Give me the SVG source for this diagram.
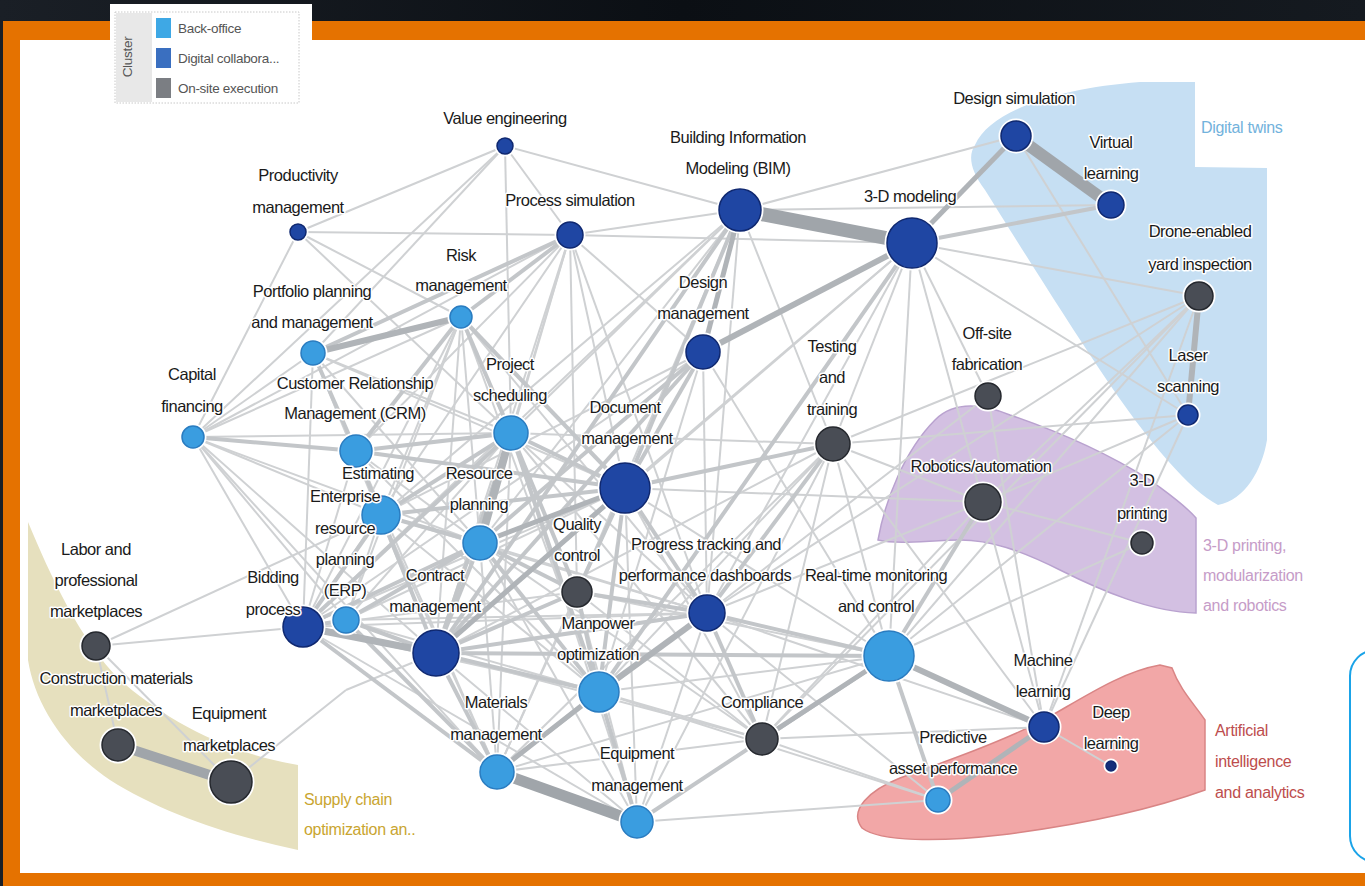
<svg xmlns="http://www.w3.org/2000/svg" width="1365" height="886" viewBox="0 0 1365 886">
<defs>
<linearGradient id="topg" x1="0" y1="0" x2="1" y2="0">
<stop offset="0" stop-color="#1a1f26"/><stop offset="0.5" stop-color="#0b0f14"/><stop offset="1" stop-color="#151a20"/>
</linearGradient>
<style>
.t{stroke:#cfd1d3;stroke-width:2;fill:none}
.m{stroke:#c3c6c9;stroke-width:4;fill:none}
.k{stroke:#b0b4b8;stroke-width:6;fill:none}
.h{stroke:#a0a5aa;fill:none}
.bo{fill:#3a9de0;stroke:#2a7cc0;stroke-width:1.5}
.dc{fill:#1f46a3;stroke:#0f2870;stroke-width:1.5}
.os{fill:#494d55;stroke:#25282e;stroke-width:1.5}
.halo{fill:none;stroke:#ffffff;stroke-width:3}
text{font-family:"Liberation Sans",Arial,sans-serif}
.lab{font-size:16.5px;letter-spacing:-0.5px;fill:#1a1a1a;text-anchor:middle;stroke:#ffffff;stroke-width:3;paint-order:stroke;stroke-linejoin:round}
.rg{font-size:16px;letter-spacing:-0.3px;stroke:none}
.lg{font-size:13.5px;letter-spacing:-0.3px;fill:#555}
</style>
</defs>
<rect x="0" y="0" width="1365" height="886" fill="#e57200"/>
<rect x="0" y="0" width="1365" height="21" fill="url(#topg)"/>
<rect x="0" y="21" width="3" height="865" fill="#1a1f26"/>
<rect x="20" y="40" width="1345" height="833" fill="#ffffff"/>
<g id="regions">
<path id="region-digital-twins" d="M975,145 C990,110 1060,88 1140,82 L1195,82 L1195,167 L1267,168 L1267,440 C1262,470 1245,500 1218,505 C1190,490 1150,445 1100,370 C1060,310 1010,230 985,190 C970,170 968,155 975,145 Z" fill="#c6dff3"/>
<path id="region-3d" d="M878,540 C885,500 905,450 935,420 C955,400 985,405 1010,415 C1060,432 1110,455 1150,480 C1170,495 1185,505 1196,518 L1196,613 C1150,612 1100,590 1060,570 C1020,550 990,540 960,540 C930,540 900,545 878,540 Z" fill="#d3c0e2" stroke="#b9a2cf" stroke-width="1.5"/>
<path id="region-ai" d="M862,828 C848,810 870,790 900,778 C950,760 1000,742 1040,722 C1080,700 1120,672 1160,665 L1172,668 C1180,690 1195,705 1205,720 L1205,790 C1150,810 1080,825 1000,835 C940,842 880,842 862,828 Z" fill="#f2a7a7" stroke="#d98585" stroke-width="1.5"/>
<path id="region-supply" d="M28,522 C50,575 80,640 120,680 C160,715 220,752 298,765 L298,850 C230,836 160,812 110,780 C65,750 35,705 28,660 Z" fill="#e6e0be"/>
<text class="rg" x="1201" y="133" fill="#72b2dc">Digital twins</text>
<text class="rg" x="1203" y="551" fill="#c69cc8">3-D printing,</text>
<text class="rg" x="1203" y="581" fill="#c69cc8">modularization</text>
<text class="rg" x="1203" y="611" fill="#c69cc8">and robotics</text>
<text class="rg" x="1215" y="736" fill="#bd4d4d">Artificial</text>
<text class="rg" x="1215" y="767" fill="#bd4d4d">intelligence</text>
<text class="rg" x="1215" y="798" fill="#bd4d4d">and analytics</text>
<text class="rg" x="304" y="805" fill="#c9a530">Supply chain</text>
<text class="rg" x="304" y="835" fill="#c9a530">optimization an..</text>
</g>
<g id="connectors">
<line class="t" x1="505" y1="146" x2="298" y2="232"/>
<line class="t" x1="505" y1="146" x2="740" y2="210"/>
<line class="t" x1="505" y1="146" x2="570" y2="235"/>
<line class="t" x1="505" y1="146" x2="511" y2="433"/>
<line class="t" x1="505" y1="146" x2="313" y2="353"/>
<line class="t" x1="505" y1="146" x2="193" y2="437"/>
<line class="t" x1="298" y1="232" x2="570" y2="235"/>
<line class="t" x1="298" y1="232" x2="193" y2="437"/>
<line class="t" x1="298" y1="232" x2="461" y2="317"/>
<line class="t" x1="298" y1="232" x2="511" y2="433"/>
<line class="t" x1="570" y1="235" x2="912" y2="243"/>
<line class="t" x1="570" y1="235" x2="740" y2="210"/>
<line class="t" x1="570" y1="235" x2="356" y2="451"/>
<line class="t" x1="570" y1="235" x2="511" y2="433"/>
<line class="t" x1="570" y1="235" x2="480" y2="543"/>
<line class="t" x1="570" y1="235" x2="625" y2="488"/>
<line class="t" x1="570" y1="235" x2="703" y2="352"/>
<line class="t" x1="570" y1="235" x2="577" y2="592"/>
<line class="t" x1="570" y1="235" x2="707" y2="613"/>
<line class="t" x1="570" y1="235" x2="436" y2="653"/>
<line class="t" x1="570" y1="235" x2="303" y2="627"/>
<line class="t" x1="570" y1="235" x2="193" y2="437"/>
<line class="t" x1="740" y1="210" x2="1016" y2="136"/>
<line class="t" x1="740" y1="210" x2="1111" y2="205"/>
<line class="t" x1="740" y1="210" x2="833" y2="444"/>
<line class="t" x1="740" y1="210" x2="480" y2="543"/>
<line class="t" x1="740" y1="210" x2="707" y2="613"/>
<line class="t" x1="740" y1="210" x2="381" y2="515"/>
<line class="t" x1="740" y1="210" x2="303" y2="627"/>
<line class="t" x1="740" y1="210" x2="577" y2="592"/>
<line class="t" x1="740" y1="210" x2="511" y2="433"/>
<line class="t" x1="912" y1="243" x2="1199" y2="296"/>
<line class="t" x1="912" y1="243" x2="1188" y2="415"/>
<line class="t" x1="912" y1="243" x2="988" y2="396"/>
<line class="t" x1="912" y1="243" x2="833" y2="444"/>
<line class="t" x1="912" y1="243" x2="707" y2="613"/>
<line class="t" x1="912" y1="243" x2="625" y2="488"/>
<line class="t" x1="912" y1="243" x2="436" y2="653"/>
<line class="t" x1="912" y1="243" x2="983" y2="502"/>
<line class="t" x1="912" y1="243" x2="889" y2="656"/>
<line class="t" x1="1016" y1="136" x2="1188" y2="415"/>
<line class="t" x1="1199" y1="296" x2="983" y2="502"/>
<line class="t" x1="1199" y1="296" x2="833" y2="444"/>
<line class="t" x1="1199" y1="296" x2="889" y2="656"/>
<line class="t" x1="1199" y1="296" x2="707" y2="613"/>
<line class="t" x1="1199" y1="296" x2="1044" y2="727"/>
<line class="t" x1="1199" y1="296" x2="762" y2="739"/>
<line class="t" x1="1188" y1="415" x2="833" y2="444"/>
<line class="t" x1="1188" y1="415" x2="983" y2="502"/>
<line class="t" x1="1188" y1="415" x2="1044" y2="727"/>
<line class="t" x1="1188" y1="415" x2="889" y2="656"/>
<line class="t" x1="988" y1="396" x2="1044" y2="727"/>
<line class="t" x1="988" y1="396" x2="707" y2="613"/>
<line class="t" x1="833" y1="444" x2="983" y2="502"/>
<line class="t" x1="833" y1="444" x2="1044" y2="727"/>
<line class="t" x1="833" y1="444" x2="762" y2="739"/>
<line class="t" x1="833" y1="444" x2="889" y2="656"/>
<line class="t" x1="833" y1="444" x2="637" y2="822"/>
<line class="t" x1="833" y1="444" x2="599" y2="692"/>
<line class="t" x1="833" y1="444" x2="497" y2="772"/>
<line class="t" x1="833" y1="444" x2="436" y2="653"/>
<line class="t" x1="983" y1="502" x2="1142" y2="543"/>
<line class="t" x1="983" y1="502" x2="1044" y2="727"/>
<line class="t" x1="983" y1="502" x2="889" y2="656"/>
<line class="t" x1="983" y1="502" x2="707" y2="613"/>
<line class="t" x1="983" y1="502" x2="762" y2="739"/>
<line class="t" x1="983" y1="502" x2="625" y2="488"/>
<line class="t" x1="1142" y1="543" x2="889" y2="656"/>
<line class="t" x1="1044" y1="727" x2="1111" y2="766"/>
<line class="t" x1="1044" y1="727" x2="762" y2="739"/>
<line class="t" x1="1044" y1="727" x2="707" y2="613"/>
<line class="t" x1="938" y1="800" x2="637" y2="822"/>
<line class="t" x1="938" y1="800" x2="762" y2="739"/>
<line class="t" x1="938" y1="800" x2="707" y2="613"/>
<line class="t" x1="938" y1="800" x2="599" y2="692"/>
<line class="t" x1="889" y1="656" x2="637" y2="822"/>
<line class="t" x1="889" y1="656" x2="497" y2="772"/>
<line class="t" x1="889" y1="656" x2="436" y2="653"/>
<line class="t" x1="889" y1="656" x2="577" y2="592"/>
<line class="t" x1="889" y1="656" x2="625" y2="488"/>
<line class="t" x1="193" y1="437" x2="313" y2="353"/>
<line class="t" x1="193" y1="437" x2="461" y2="317"/>
<line class="t" x1="193" y1="437" x2="511" y2="433"/>
<line class="t" x1="193" y1="437" x2="381" y2="515"/>
<line class="t" x1="193" y1="437" x2="480" y2="543"/>
<line class="t" x1="193" y1="437" x2="303" y2="627"/>
<line class="t" x1="193" y1="437" x2="436" y2="653"/>
<line class="t" x1="193" y1="437" x2="346" y2="620"/>
<line class="t" x1="193" y1="437" x2="497" y2="772"/>
<line class="t" x1="313" y1="353" x2="511" y2="433"/>
<line class="t" x1="313" y1="353" x2="381" y2="515"/>
<line class="t" x1="313" y1="353" x2="625" y2="488"/>
<line class="t" x1="313" y1="353" x2="303" y2="627"/>
<line class="t" x1="313" y1="353" x2="480" y2="543"/>
<line class="t" x1="313" y1="353" x2="436" y2="653"/>
<line class="t" x1="461" y1="317" x2="381" y2="515"/>
<line class="t" x1="461" y1="317" x2="480" y2="543"/>
<line class="t" x1="461" y1="317" x2="577" y2="592"/>
<line class="t" x1="461" y1="317" x2="436" y2="653"/>
<line class="t" x1="461" y1="317" x2="303" y2="627"/>
<line class="t" x1="461" y1="317" x2="599" y2="692"/>
<line class="t" x1="461" y1="317" x2="707" y2="613"/>
<line class="t" x1="461" y1="317" x2="346" y2="620"/>
<line class="t" x1="356" y1="451" x2="303" y2="627"/>
<line class="t" x1="356" y1="451" x2="480" y2="543"/>
<line class="t" x1="356" y1="451" x2="436" y2="653"/>
<line class="t" x1="356" y1="451" x2="599" y2="692"/>
<line class="t" x1="356" y1="451" x2="497" y2="772"/>
<line class="t" x1="511" y1="433" x2="707" y2="613"/>
<line class="t" x1="511" y1="433" x2="637" y2="822"/>
<line class="t" x1="511" y1="433" x2="497" y2="772"/>
<line class="t" x1="511" y1="433" x2="346" y2="620"/>
<line class="t" x1="511" y1="433" x2="833" y2="444"/>
<line class="t" x1="511" y1="433" x2="762" y2="739"/>
<line class="t" x1="625" y1="488" x2="497" y2="772"/>
<line class="t" x1="625" y1="488" x2="637" y2="822"/>
<line class="t" x1="625" y1="488" x2="762" y2="739"/>
<line class="t" x1="625" y1="488" x2="346" y2="620"/>
<line class="t" x1="625" y1="488" x2="303" y2="627"/>
<line class="t" x1="703" y1="352" x2="707" y2="613"/>
<line class="t" x1="703" y1="352" x2="303" y2="627"/>
<line class="t" x1="703" y1="352" x2="381" y2="515"/>
<line class="t" x1="703" y1="352" x2="599" y2="692"/>
<line class="t" x1="703" y1="352" x2="889" y2="656"/>
<line class="t" x1="381" y1="515" x2="497" y2="772"/>
<line class="t" x1="381" y1="515" x2="599" y2="692"/>
<line class="t" x1="381" y1="515" x2="707" y2="613"/>
<line class="t" x1="381" y1="515" x2="346" y2="620"/>
<line class="t" x1="480" y1="543" x2="497" y2="772"/>
<line class="t" x1="480" y1="543" x2="637" y2="822"/>
<line class="t" x1="480" y1="543" x2="707" y2="613"/>
<line class="t" x1="480" y1="543" x2="762" y2="739"/>
<line class="t" x1="577" y1="592" x2="497" y2="772"/>
<line class="t" x1="577" y1="592" x2="637" y2="822"/>
<line class="t" x1="577" y1="592" x2="762" y2="739"/>
<line class="t" x1="577" y1="592" x2="303" y2="627"/>
<line class="t" x1="303" y1="627" x2="599" y2="692"/>
<line class="t" x1="303" y1="627" x2="707" y2="613"/>
<line class="t" x1="303" y1="627" x2="637" y2="822"/>
<line class="t" x1="303" y1="627" x2="96" y2="646"/>
<line class="t" x1="346" y1="620" x2="599" y2="692"/>
<line class="t" x1="346" y1="620" x2="707" y2="613"/>
<line class="t" x1="436" y1="653" x2="762" y2="739"/>
<line class="t" x1="436" y1="653" x2="637" y2="822"/>
<line class="t" x1="707" y1="613" x2="637" y2="822"/>
<line class="t" x1="707" y1="613" x2="497" y2="772"/>
<line class="t" x1="599" y1="692" x2="762" y2="739"/>
<line class="t" x1="599" y1="692" x2="889" y2="656"/>
<line class="t" x1="497" y1="772" x2="762" y2="739"/>
<line class="t" x1="637" y1="822" x2="762" y2="739"/>
<line class="t" x1="96" y1="646" x2="118" y2="745"/>
<line class="t" x1="96" y1="646" x2="231" y2="782"/>
<line class="t" x1="96" y1="646" x2="381" y2="515"/>
<line class="t" x1="231" y1="782" x2="346" y2="690"/>
<line class="t" x1="346" y1="690" x2="436" y2="653"/>
<line class="m" x1="570" y1="235" x2="461" y2="317"/>
<line class="m" x1="570" y1="235" x2="313" y2="353"/>
<line class="m" x1="740" y1="210" x2="625" y2="488"/>
<line class="m" x1="740" y1="210" x2="436" y2="653"/>
<line class="m" x1="912" y1="243" x2="1111" y2="205"/>
<line class="m" x1="912" y1="243" x2="599" y2="692"/>
<line class="m" x1="193" y1="437" x2="356" y2="451"/>
<line class="m" x1="313" y1="353" x2="356" y2="451"/>
<line class="m" x1="461" y1="317" x2="356" y2="451"/>
<line class="m" x1="461" y1="317" x2="511" y2="433"/>
<line class="m" x1="461" y1="317" x2="625" y2="488"/>
<line class="m" x1="356" y1="451" x2="511" y2="433"/>
<line class="m" x1="356" y1="451" x2="381" y2="515"/>
<line class="m" x1="356" y1="451" x2="625" y2="488"/>
<line class="m" x1="511" y1="433" x2="625" y2="488"/>
<line class="m" x1="511" y1="433" x2="381" y2="515"/>
<line class="m" x1="511" y1="433" x2="436" y2="653"/>
<line class="m" x1="511" y1="433" x2="303" y2="627"/>
<line class="m" x1="511" y1="433" x2="599" y2="692"/>
<line class="m" x1="511" y1="433" x2="577" y2="592"/>
<line class="m" x1="625" y1="488" x2="703" y2="352"/>
<line class="m" x1="625" y1="488" x2="381" y2="515"/>
<line class="m" x1="625" y1="488" x2="577" y2="592"/>
<line class="m" x1="625" y1="488" x2="707" y2="613"/>
<line class="m" x1="625" y1="488" x2="599" y2="692"/>
<line class="m" x1="625" y1="488" x2="833" y2="444"/>
<line class="m" x1="703" y1="352" x2="480" y2="543"/>
<line class="m" x1="703" y1="352" x2="436" y2="653"/>
<line class="m" x1="381" y1="515" x2="480" y2="543"/>
<line class="m" x1="381" y1="515" x2="303" y2="627"/>
<line class="m" x1="381" y1="515" x2="436" y2="653"/>
<line class="m" x1="480" y1="543" x2="436" y2="653"/>
<line class="m" x1="480" y1="543" x2="303" y2="627"/>
<line class="m" x1="480" y1="543" x2="346" y2="620"/>
<line class="m" x1="480" y1="543" x2="599" y2="692"/>
<line class="m" x1="480" y1="543" x2="577" y2="592"/>
<line class="m" x1="303" y1="627" x2="346" y2="620"/>
<line class="m" x1="303" y1="627" x2="497" y2="772"/>
<line class="m" x1="346" y1="620" x2="436" y2="653"/>
<line class="m" x1="346" y1="620" x2="497" y2="772"/>
<line class="m" x1="436" y1="653" x2="599" y2="692"/>
<line class="m" x1="436" y1="653" x2="497" y2="772"/>
<line class="m" x1="436" y1="653" x2="707" y2="613"/>
<line class="m" x1="436" y1="653" x2="577" y2="592"/>
<line class="m" x1="436" y1="653" x2="889" y2="656"/>
<line class="m" x1="577" y1="592" x2="599" y2="692"/>
<line class="m" x1="577" y1="592" x2="707" y2="613"/>
<line class="m" x1="707" y1="613" x2="762" y2="739"/>
<line class="m" x1="707" y1="613" x2="889" y2="656"/>
<line class="m" x1="599" y1="692" x2="497" y2="772"/>
<line class="m" x1="599" y1="692" x2="637" y2="822"/>
<line class="m" x1="637" y1="822" x2="889" y2="656"/>
<line class="m" x1="889" y1="656" x2="938" y2="800"/>
<line class="m" x1="889" y1="656" x2="983" y2="502"/>
<line class="m" x1="833" y1="444" x2="707" y2="613"/>
<line class="k" x1="313" y1="353" x2="461" y2="317"/>
<line class="k" x1="511" y1="433" x2="480" y2="543" style="stroke-width:8"/>
<line class="k" x1="912" y1="243" x2="703" y2="352"/>
<line class="k" x1="1016" y1="136" x2="912" y2="243" style="stroke-width:5"/>
<line class="k" x1="1199" y1="296" x2="1188" y2="415"/>
<line class="k" x1="303" y1="627" x2="436" y2="653" style="stroke-width:7"/>
<line class="k" x1="707" y1="613" x2="599" y2="692"/>
<line class="k" x1="625" y1="488" x2="480" y2="543" style="stroke-width:5"/>
<line class="k" x1="740" y1="210" x2="703" y2="352" style="stroke-width:5"/>
<line class="k" x1="889" y1="656" x2="1044" y2="727"/>
<line class="k" x1="1044" y1="727" x2="938" y2="800" style="stroke-width:5"/>
<line class="k" x1="762" y1="739" x2="889" y2="656" style="stroke-width:5"/>
<line class="k" x1="599" y1="692" x2="497" y2="772" style="stroke-width:5"/>
<line class="k" x1="436" y1="653" x2="625" y2="488" style="stroke-width:5"/>
<line class="h" x1="740" y1="210" x2="912" y2="243" style="stroke-width:14"/>
<line class="h" x1="1016" y1="136" x2="1111" y2="205" style="stroke-width:12"/>
<line class="h" x1="497" y1="772" x2="637" y2="822" style="stroke-width:11"/>
<line class="h" x1="118" y1="745" x2="231" y2="782" style="stroke-width:10"/>
</g>
<g id="node-value-engineering"><circle class="halo" cx="505" cy="146" r="9"/><circle class="dc" cx="505" cy="146" r="8"/><text class="lab" x="505" y="124">Value engineering</text></g>
<g id="node-productivity-management"><circle class="halo" cx="298" cy="232" r="9"/><circle class="dc" cx="298" cy="232" r="8"/><text class="lab" x="298" y="181">Productivity</text><text class="lab" x="298" y="213">management</text></g>
<g id="node-process-simulation"><circle class="halo" cx="570" cy="235" r="14"/><circle class="dc" cx="570" cy="235" r="13"/><text class="lab" x="570" y="206">Process simulation</text></g>
<g id="node-bim"><circle class="halo" cx="740" cy="210" r="22"/><circle class="dc" cx="740" cy="210" r="21"/><text class="lab" x="738" y="143">Building Information</text><text class="lab" x="738" y="174">Modeling (BIM)</text></g>
<g id="node-3d-modeling"><circle class="halo" cx="912" cy="243" r="26"/><circle class="dc" cx="912" cy="243" r="25"/><text class="lab" x="910" y="202">3-D modeling</text></g>
<g id="node-design-simulation"><circle class="halo" cx="1016" cy="136" r="16"/><circle class="dc" cx="1016" cy="136" r="15"/><text class="lab" x="1014" y="104">Design simulation</text></g>
<g id="node-virtual-learning"><circle class="halo" cx="1111" cy="205" r="14"/><circle class="dc" cx="1111" cy="205" r="13"/><text class="lab" x="1111" y="148">Virtual</text><text class="lab" x="1111" y="179">learning</text></g>
<g id="node-drone"><circle class="halo" cx="1199" cy="296" r="15"/><circle class="os" cx="1199" cy="296" r="14"/><text class="lab" x="1200" y="237">Drone-enabled</text><text class="lab" x="1200" y="270">yard inspection</text></g>
<g id="node-laser-scanning"><circle class="halo" cx="1188" cy="415" r="11"/><circle class="dc" cx="1188" cy="415" r="10"/><text class="lab" x="1188" y="361">Laser</text><text class="lab" x="1188" y="392">scanning</text></g>
<g id="node-risk-management"><circle class="halo" cx="461" cy="317" r="12"/><circle class="bo" cx="461" cy="317" r="11"/><text class="lab" x="461" y="261">Risk</text><text class="lab" x="461" y="291">management</text></g>
<g id="node-portfolio"><circle class="halo" cx="313" cy="353" r="13"/><circle class="bo" cx="313" cy="353" r="12"/><text class="lab" x="312" y="297">Portfolio planning</text><text class="lab" x="312" y="328">and management</text></g>
<g id="node-design-management"><circle class="halo" cx="703" cy="352" r="18"/><circle class="dc" cx="703" cy="352" r="17"/><text class="lab" x="703" y="288">Design</text><text class="lab" x="703" y="319">management</text></g>
<g id="node-testing"><circle class="halo" cx="833" cy="444" r="18"/><circle class="os" cx="833" cy="444" r="17"/><text class="lab" x="832" y="352">Testing</text><text class="lab" x="832" y="383">and</text><text class="lab" x="832" y="415">training</text></g>
<g id="node-offsite"><circle class="halo" cx="988" cy="396" r="14"/><circle class="os" cx="988" cy="396" r="13"/><text class="lab" x="987" y="339">Off-site</text><text class="lab" x="987" y="370">fabrication</text></g>
<g id="node-capital-financing"><circle class="halo" cx="193" cy="437" r="12"/><circle class="bo" cx="193" cy="437" r="11"/><text class="lab" x="192" y="380">Capital</text><text class="lab" x="192" y="412">financing</text></g>
<g id="node-crm"><circle class="halo" cx="356" cy="451" r="17"/><circle class="bo" cx="356" cy="451" r="16"/><text class="lab" x="355" y="389">Customer Relationship</text><text class="lab" x="355" y="419">Management (CRM)</text></g>
<g id="node-project-scheduling"><circle class="halo" cx="511" cy="433" r="18"/><circle class="bo" cx="511" cy="433" r="17"/><text class="lab" x="510" y="370">Project</text><text class="lab" x="510" y="401">scheduling</text></g>
<g id="node-document-management"><circle class="halo" cx="625" cy="488" r="26"/><circle class="dc" cx="625" cy="488" r="25"/><text class="lab" x="625" y="413">Document</text><text class="lab" x="627" y="444">management</text></g>
<g id="node-robotics"><circle class="halo" cx="983" cy="502" r="19"/><circle class="os" cx="983" cy="502" r="18"/><text class="lab" x="981" y="472">Robotics/automation</text></g>
<g id="node-3d-printing"><circle class="halo" cx="1142" cy="543" r="12"/><circle class="os" cx="1142" cy="543" r="11"/><text class="lab" x="1142" y="486">3-D</text><text class="lab" x="1142" y="519">printing</text></g>
<g id="node-estimating"><circle class="halo" cx="381" cy="515" r="20"/><circle class="bo" cx="381" cy="515" r="19"/><text class="lab" x="378" y="479">Estimating</text></g>
<g id="node-resource-planning"><circle class="halo" cx="480" cy="543" r="18"/><circle class="bo" cx="480" cy="543" r="17"/><text class="lab" x="479" y="479">Resource</text><text class="lab" x="479" y="510">planning</text></g>
<g id="node-erp"><circle class="halo" cx="346" cy="620" r="14"/><circle class="bo" cx="346" cy="620" r="13"/><text class="lab" x="345" y="502">Enterprise</text><text class="lab" x="345" y="534">resource</text><text class="lab" x="345" y="565">planning</text><text class="lab" x="345" y="596">(ERP)</text></g>
<g id="node-quality-control"><circle class="halo" cx="577" cy="592" r="16"/><circle class="os" cx="577" cy="592" r="15"/><text class="lab" x="577" y="530">Quality</text><text class="lab" x="577" y="561">control</text></g>
<g id="node-bidding-process"><circle class="halo" cx="303" cy="627" r="21"/><circle class="dc" cx="303" cy="627" r="20"/><text class="lab" x="273" y="583">Bidding</text><text class="lab" x="273" y="615">process</text></g>
<g id="node-contract-management"><circle class="halo" cx="436" cy="653" r="24"/><circle class="dc" cx="436" cy="653" r="23"/><text class="lab" x="435" y="581">Contract</text><text class="lab" x="435" y="612">management</text></g>
<g id="node-progress-tracking"><circle class="halo" cx="707" cy="613" r="19"/><circle class="dc" cx="707" cy="613" r="18"/><text class="lab" x="706" y="550">Progress tracking and</text><text class="lab" x="705" y="581">performance dashboards</text></g>
<g id="node-real-time"><circle class="halo" cx="889" cy="656" r="26"/><circle class="bo" cx="889" cy="656" r="25"/><text class="lab" x="876" y="581">Real-time monitoring</text><text class="lab" x="876" y="612">and control</text></g>
<g id="node-manpower"><circle class="halo" cx="599" cy="692" r="21"/><circle class="bo" cx="599" cy="692" r="20"/><text class="lab" x="598" y="629">Manpower</text><text class="lab" x="598" y="660">optimization</text></g>
<g id="node-materials-management"><circle class="halo" cx="497" cy="772" r="18"/><circle class="bo" cx="497" cy="772" r="17"/><text class="lab" x="496" y="708">Materials</text><text class="lab" x="496" y="740">management</text></g>
<g id="node-equipment-management"><circle class="halo" cx="637" cy="822" r="17"/><circle class="bo" cx="637" cy="822" r="16"/><text class="lab" x="637" y="759">Equipment</text><text class="lab" x="637" y="791">management</text></g>
<g id="node-compliance"><circle class="halo" cx="762" cy="739" r="17"/><circle class="os" cx="762" cy="739" r="16"/><text class="lab" x="762" y="708">Compliance</text></g>
<g id="node-machine-learning"><circle class="halo" cx="1044" cy="727" r="16"/><circle class="dc" cx="1044" cy="727" r="15"/><text class="lab" x="1043" y="666">Machine</text><text class="lab" x="1043" y="697">learning</text></g>
<g id="node-deep-learning"><circle class="halo" cx="1111" cy="766" r="6"/><circle class="dc" cx="1111" cy="766" r="5" style="fill:#142e7a"/><text class="lab" x="1111" y="718">Deep</text><text class="lab" x="1111" y="749">learning</text></g>
<g id="node-predictive"><circle class="halo" cx="938" cy="800" r="13"/><circle class="bo" cx="938" cy="800" r="12"/><text class="lab" x="953" y="743">Predictive</text><text class="lab" x="953" y="774">asset performance</text></g>
<g id="node-labor"><circle class="halo" cx="96" cy="646" r="15"/><circle class="os" cx="96" cy="646" r="14"/><text class="lab" x="96" y="555">Labor and</text><text class="lab" x="96" y="586">professional</text><text class="lab" x="96" y="617">marketplaces</text></g>
<g id="node-construction-materials"><circle class="halo" cx="118" cy="745" r="17"/><circle class="os" cx="118" cy="745" r="16"/><text class="lab" x="116" y="684">Construction materials</text><text class="lab" x="116" y="716">marketplaces</text></g>
<g id="node-equipment-marketplaces"><circle class="halo" cx="231" cy="782" r="22"/><circle class="os" cx="231" cy="782" r="21"/><text class="lab" x="229" y="719">Equipment</text><text class="lab" x="229" y="751">marketplaces</text></g>
<rect id="bracket" x="1350" y="650" width="60" height="212" rx="26" fill="none" stroke="#1aa3e8" stroke-width="2"/>
<g id="legend">
<rect x="110" y="4" width="202" height="103" fill="#ffffff"/>
<rect x="115" y="12" width="184" height="91" fill="none" stroke="#c8c8c8" stroke-width="1" stroke-dasharray="1.5,1.5"/>
<rect x="116" y="13" width="36" height="89" fill="#e8e8e8"/>
<text class="lg" transform="translate(132,57) rotate(-90)" text-anchor="middle" letter-spacing="1.5">Cluster</text>
<rect x="156" y="18" width="15" height="20" fill="#3ea8e5"/>
<rect x="156" y="48" width="15" height="20" fill="#3a6fc0"/>
<rect x="156" y="78" width="15" height="20" fill="#7b7e83"/>
<text class="lg" x="178" y="33">Back-office</text>
<text class="lg" x="178" y="63">Digital collabora...</text>
<text class="lg" x="178" y="93">On-site execution</text>
</g>
</svg>
